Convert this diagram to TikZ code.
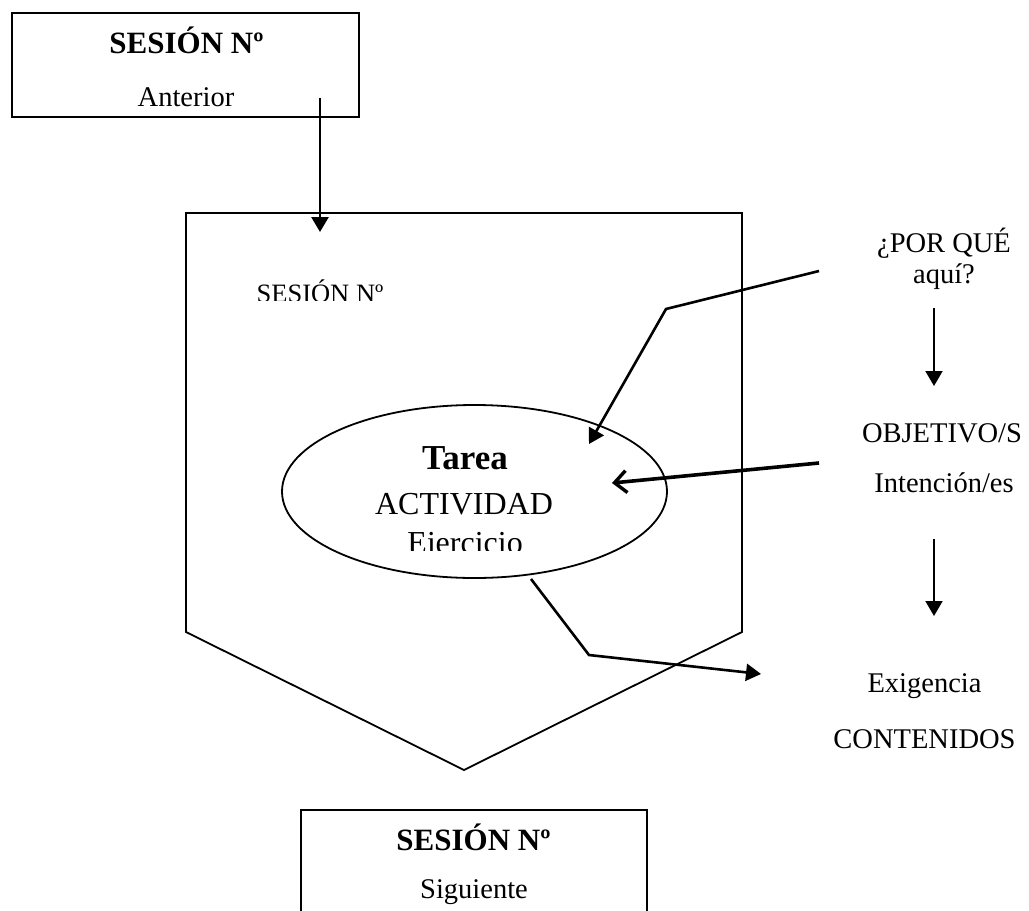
\documentclass[tikz,border=0pt]{standalone}
\usepackage{fontspec}
\setmainfont{Liberation Serif}
\usetikzlibrary{arrows.meta,shapes.geometric}

\tikzset{
  sbox/.style={draw, line width=2pt, rectangle, inner sep=0pt},
  head/.style={anchor=base, inner sep=0pt, font=\bfseries\fontsize{31}{36}\selectfont},
  plain/.style={anchor=base, inner sep=0pt, font=\fontsize{28.5}{34}\selectfont},
  big/.style={anchor=base, inner sep=0pt, font=\fontsize{32}{38}\selectfont},
  bigb/.style={anchor=base, inner sep=0pt, font=\bfseries\fontsize{35}{40}\selectfont},
  link/.style={line width=2.6pt, -{Triangle[length=15pt,width=17pt]}},
  openlink/.style={line width=3.6pt, -{Straight Barb[length=12pt,width=22pt,line width=3.4pt]}},
}

\begin{document}
\begin{tikzpicture}[x=1pt,y=-1pt]
\useasboundingbox (0,0) rectangle (1029,911);
\clip (0,0) rectangle (1029,911);

% previous session
\node[sbox, minimum width=347pt, minimum height=104pt] (prev) at (185.5,65) {};
\node[head]  (prevT) at (186.5,53)  {SESIÓN Nº};
\node[plain] (prevS) at (186,106)   {Anterior};

% current session: pentagon
\draw[line width=1.8pt, line join=miter] (186,213) -- (742,213) -- (742,632) -- (464,770) -- (186,632) -- cycle;
\coordinate (prevOut) at (320,98);
\coordinate (curIn)   at (320,232);
\begin{scope}
  \clip (200,260) rectangle (450,300);
  \node[anchor=base, inner sep=0pt, font=\fontsize{26.5}{32}\selectfont] (curT) at (320,302) {SESIÓN Nº};
\end{scope}

% task ellipse
\node[draw, ellipse, line width=1.8pt, minimum width=385pt, minimum height=173pt, inner sep=0pt] (task) at (474.5,491.5) {};
\node[bigb] (taskA) at (465,469) {Tarea};
\node[big]  (taskB) at (464,514) {ACTIVIDAD};
\begin{scope}
  \clip (380,520) rectangle (560,550);
  \node[big] (taskC) at (465,553) {Ejercicio};
\end{scope}

% right column
\node[plain] (why1) at (944,252) {¿POR QUÉ};
\node[plain] (why2) at (944,283) {aquí?};
\node[plain] (obj1) at (942,442) {OBJETIVO/S};
\node[plain] (obj2) at (944,492) {Intención/es};
\node[plain] (con1) at (924.5,692) {Exigencia};
\node[plain] (con2) at (924.5,748) {CONTENIDOS};

% next session
\node[sbox, minimum width=346pt, minimum height=160pt, anchor=north] (next) at (474,809) {};
\node[head]  (nextT) at (473.5,850) {SESIÓN Nº};
\node[plain] (nextS) at (474,898)   {Siguiente};

% connector ends
\coordinate (whyOut)  at (819,271);
\coordinate (whyBend) at (666,309);
\coordinate (taskTop) at (589,444);
\coordinate (objOut)  at (819,463);
\coordinate (taskR)   at (612,483);
\coordinate (taskBot) at (531,579);
\coordinate (conBend) at (589,655);
\coordinate (conIn)   at (761,674);
\coordinate (whyDa) at (934,308);
\coordinate (whyDb) at (934,386);
\coordinate (objDa) at (934,539);
\coordinate (objDb) at (934,616);

% connectors
\draw[link] (prevOut) -- (curIn);
\draw[link] (whyOut) -- (whyBend) -- (taskTop);
\draw[openlink] (objOut) -- (taskR);
\draw[link] (taskBot) -- (conBend) -- (conIn);
\draw[link, line width=2pt] (whyDa) -- (whyDb);
\draw[link, line width=2pt] (objDa) -- (objDb);
\end{tikzpicture}
\end{document}
